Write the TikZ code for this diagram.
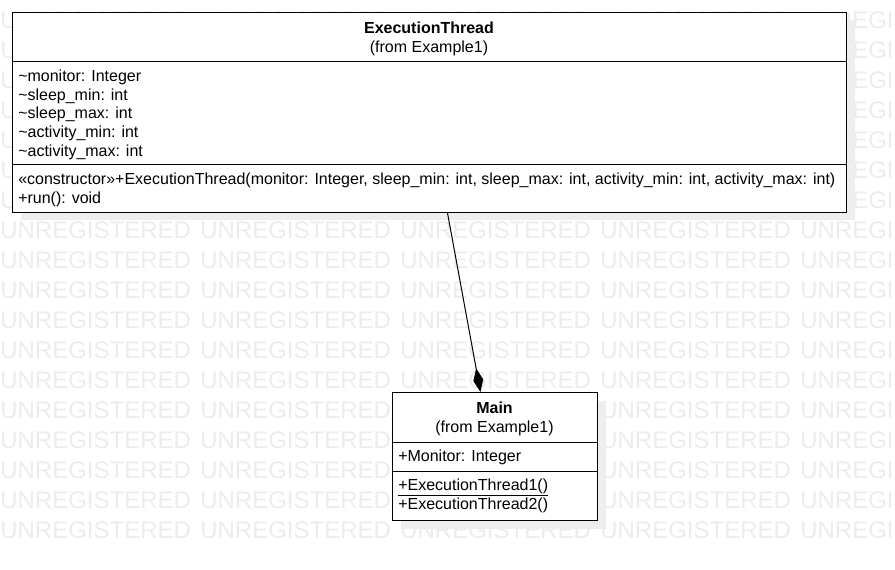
\documentclass[tikz,border=0pt]{standalone}
\usepackage{fontspec}
\setmainfont{Liberation Sans}
\usetikzlibrary{arrows.meta,shadows}
\definecolor{wmgray}{RGB}{236,236,236}
\definecolor{shadowgray}{RGB}{238,238,238}
\tikzset{
  classbox/.style={draw=black, line width=0.75pt, fill=white, anchor=north west, inner sep=0pt,
    general shadow={fill=shadowgray, shadow xshift=6pt, shadow yshift=-6pt}},
  member/.style={anchor=base west, inner sep=0pt, font=\fontsize{12pt}{14pt}\selectfont},
  classname/.style={anchor=base, inner sep=0pt, font=\fontsize{12pt}{14pt}\selectfont\bfseries},
  fromline/.style={anchor=base, inner sep=0pt, font=\fontsize{12pt}{14pt}\selectfont},
  watermark/.style={anchor=west, inner sep=0pt, text=wmgray, font=\fontsize{18pt}{20pt}\selectfont},
  composition/.style={-{Diamond[length=18pt,width=7.5pt]}, line width=0.75pt}
}

\begin{document}
\begin{tikzpicture}[x=0.75pt,y=-0.75pt]
        \useasboundingbox (0,0) rectangle (895,570);
        
        % Watermark
        \begin{scope}
            \clip (0,0) rectangle (895,570);
            \foreach \r in {0,...,17}
                \foreach \c in {0,...,4}
                    \node[watermark] (wm-\r-\c) at (200*\c, 20.5+30*\r) {UNREGISTERED};
        \end{scope}
        
        % ExecutionThread class
        \node[classbox, minimum width=625.5pt, minimum height=150pt] (exec) at (12,12) {};
        \draw[line width=0.75pt] ([yshift=-37.5pt]exec.north west) -- ([yshift=-37.5pt]exec.north east);
        \draw[line width=0.75pt] ([yshift=-114.75pt]exec.north west) -- ([yshift=-114.75pt]exec.north east);
        \node[classname] (exec-name) at (429,34) {ExecutionThread};
        \node[fromline] (exec-from) at (429,53) {(from Example1)};
        \node[member] (exec-a1) at (18,82) {\textasciitilde monitor: Integer};
        \node[member] (exec-a2) at (18,100.5) {\textasciitilde sleep\_min: int};
        \node[member] (exec-a3) at (18,119) {\textasciitilde sleep\_max: int};
        \node[member] (exec-a4) at (18,138) {\textasciitilde activity\_min: int};
        \node[member] (exec-a5) at (18,156.5) {\textasciitilde activity\_max: int};
        \node[member] (exec-o1) at (18,184.5) {«constructor»+ExecutionThread(monitor: Integer, sleep\_min: int, sleep\_max: int, activity\_min: int, activity\_max: int)};
        \node[member] (exec-o2) at (18,203.5) {+run(): void};
        
        % Main class
        \node[classbox, minimum width=153.75pt, minimum height=96pt] (main) at (392,392) {};
        \draw[line width=0.75pt] ([yshift=-37.5pt]main.north west) -- ([yshift=-37.5pt]main.north east);
        \draw[line width=0.75pt] ([yshift=-59.25pt]main.north west) -- ([yshift=-59.25pt]main.north east);
        \node[classname] (main-name) at (494.5,413) {Main};
        \node[fromline] (main-from) at (494.5,432.5) {(from Example1)};
        \node[member] (main-a1) at (398,461) {+Monitor: Integer};
        \node[member] (main-o1) at (398,490.5) {\underline{+ExecutionThread1()}};
        \node[member] (main-o2) at (398,509) {+ExecutionThread2()};
        
        % Composition
        \draw[composition] ([xshift=13.5pt]exec.south) -- ([xshift=-10.9pt]main.north);
    \end{tikzpicture}
\end{document}
